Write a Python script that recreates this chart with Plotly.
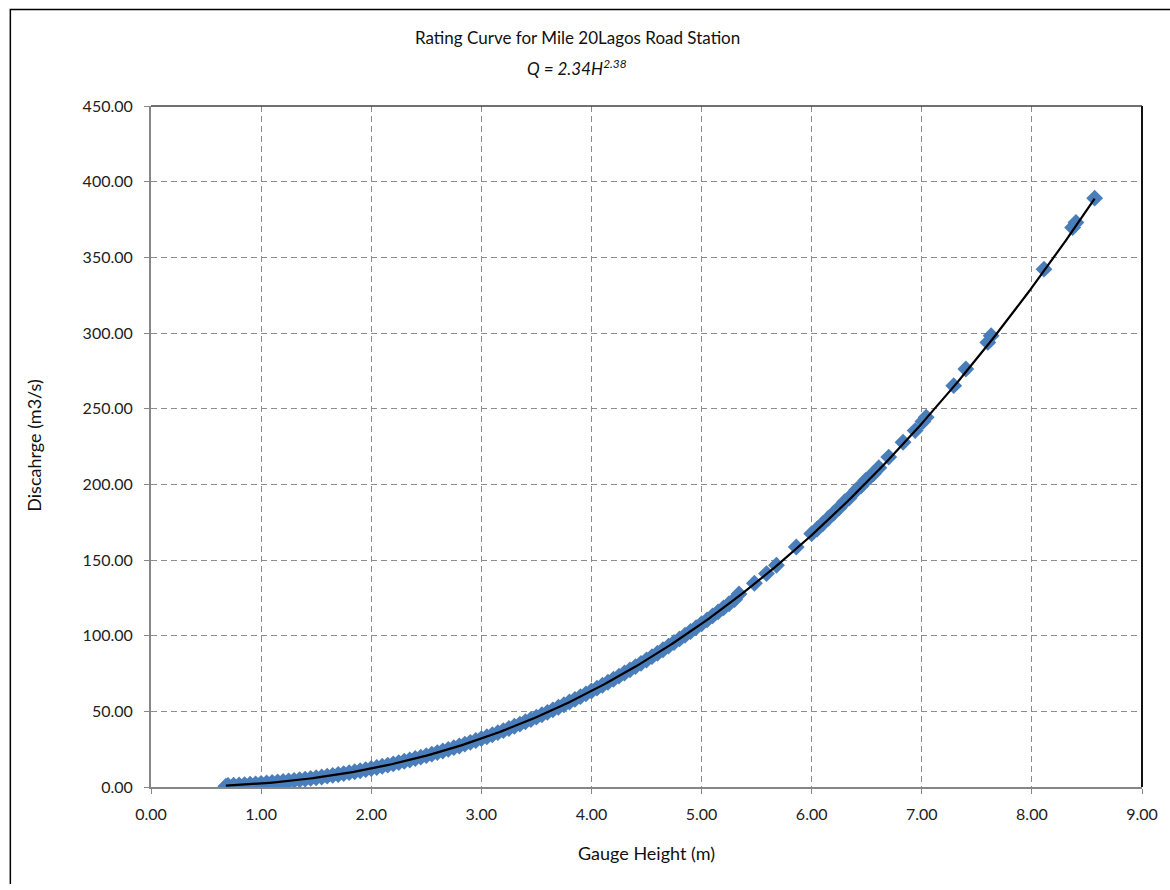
import numpy as np
import plotly.graph_objects as go

# Observed gauge heights (m) and discharges (m3/s)
gauge_height = [
    0.68, 0.70, 0.75, 0.80, 0.85, 0.90, 0.95, 1.00, 1.05, 1.10, 1.15, 1.20, 1.25,
    1.30, 1.35, 1.40, 1.45, 1.50, 1.55, 1.60, 1.65, 1.70, 1.75, 1.80, 1.85, 1.90,
    1.95, 2.00, 2.05, 2.10, 2.15, 2.20, 2.25, 2.30, 2.35, 2.40, 2.45, 2.50, 2.55,
    2.60, 2.65, 2.70, 2.75, 2.80, 2.85, 2.90, 2.95, 3.00, 3.05, 3.10, 3.15, 3.20,
    3.25, 3.30, 3.35, 3.40, 3.45, 3.50, 3.55, 3.60, 3.65, 3.70, 3.75, 3.80, 3.85,
    3.90, 3.95, 4.00, 4.05, 4.10, 4.15, 4.20, 4.25, 4.30, 4.35, 4.40, 4.45, 4.50,
    4.55, 4.60, 4.65, 4.70, 4.75, 4.80, 4.85, 4.90, 4.95, 5.00, 5.05, 5.10, 5.15,
    5.20, 5.25, 5.30, 5.34, 5.48, 5.59, 5.68, 5.86, 6.00, 6.05, 6.10, 6.15, 6.20,
    6.25, 6.30, 6.34, 6.41, 6.45, 6.49, 6.53, 6.56, 6.61, 6.70, 6.83, 6.94, 7.01,
    7.04, 7.29, 7.40, 7.60, 7.63, 8.11, 8.37, 8.40, 8.57,
]
discharge = [
    0.50, 1.00, 1.18, 1.38, 1.59, 1.82, 2.07, 2.34, 2.63, 2.94, 3.26, 3.61, 3.98,
    4.37, 4.78, 5.21, 5.67, 6.14, 6.64, 7.16, 7.71, 8.27, 8.87, 9.48, 10.12, 10.78,
    11.47, 12.18, 12.92, 13.68, 14.47, 15.28, 16.12, 16.99, 17.88, 18.80, 19.74,
    20.72, 21.72, 22.74, 23.80, 24.88, 25.99, 27.13, 28.30, 29.49, 30.72, 31.97,
    33.25, 34.56, 35.91, 37.28, 38.68, 40.11, 41.57, 43.07, 44.59, 46.14, 47.72,
    49.34, 50.99, 52.66, 54.38, 56.12, 57.89, 59.70, 61.54, 63.41, 65.31, 67.25,
    69.21, 71.21, 73.25, 75.31, 77.41, 79.55, 81.72, 83.92, 86.16, 88.43, 90.74,
    93.07, 95.45, 97.85, 100.30, 102.78, 105.30, 107.85, 110.42, 113.05, 115.70,
    118.39, 121.12, 123.88, 127.5, 134.6, 141.0, 146.5, 158.6, 167.4, 170.5, 174.0,
    177.5, 181.0, 184.5, 188.5, 191.0, 196.5, 199.0, 202.6, 205.0, 207.0, 211.0,
    218.0, 227.8, 235.5, 241.5, 244.3, 265.2, 276.2, 293.8, 298.2, 342.2, 369.7,
    373.0, 389.1,
]

# Power-law rating equation Q = a * H^b
coef_a = 2.34
coef_b = 2.38

h_fit = np.linspace(min(gauge_height), max(gauge_height), 300)
q_fit = coef_a * h_fit ** coef_b

x_ticks = [0, 1, 2, 3, 4, 5, 6, 7, 8, 9]
y_ticks = [0, 50, 100, 150, 200, 250, 300, 350, 400, 450]

FONT = "Lato, 'Open Sans', Arial, sans-serif"
GRID = "#8c8c8c"
AXIS = "#868686"

fig = go.Figure()
fig.add_trace(go.Scatter(
    x=gauge_height, y=discharge, mode="markers",
    marker=dict(symbol="diamond", size=13, color="#4a7ebb",
                line=dict(width=0)),
    showlegend=False, hoverinfo="x+y",
))
fig.add_trace(go.Scatter(
    x=h_fit, y=q_fit, mode="lines",
    line=dict(color="black", width=2.2),
    showlegend=False, hoverinfo="skip",
))

# plot-area bounds in pixels
L, R, T, B = 151, 1148, 106, 787
W, H = 1170, 884
pw, ph = R - L, B - T


def px_x(p):
    return (p - L) / pw


def px_y(p):
    return (B - p) / ph


fig.update_layout(
    width=W, height=H, autosize=False,
    margin=dict(l=L, r=W - R, t=T, b=H - B),
    paper_bgcolor="white", plot_bgcolor="white",
    font=dict(family=FONT, size=16, color="#222222"),
    xaxis=dict(
        range=[0, 9], tickvals=x_ticks, tickformat=".2f",
        showgrid=True, gridcolor=GRID, griddash="6px,4px", gridwidth=1,
        showline=True, linecolor=AXIS, linewidth=2,
        ticks="outside", ticklen=5, tickcolor=AXIS, tickwidth=1,
        ticklabelstandoff=7,
        zeroline=False, fixedrange=True,
    ),
    yaxis=dict(
        range=[0, 450], tickvals=y_ticks, tickformat=".2f",
        showgrid=True, gridcolor=GRID, griddash="6px,4px", gridwidth=1,
        showline=True, linecolor=AXIS, linewidth=2,
        ticks="outside", ticklen=5, tickcolor=AXIS, tickwidth=1,
        ticklabelstandoff=8,
        zeroline=False, fixedrange=True,
    ),
    shapes=[
        # plot-area border (top and right edges)
        dict(type="line", xref="paper", yref="paper", x0=0, x1=1, y0=1, y1=1,
             line=dict(color="#404040", width=1.5), layer="above"),
        dict(type="line", xref="paper", yref="paper", x0=1, x1=1, y0=0, y1=1,
             line=dict(color="#111111", width=2), layer="above"),
        # outer chart frame
        dict(type="rect", xref="paper", yref="paper",
             x0=px_x(9.5), x1=px_x(1190), y0=px_y(900), y1=px_y(9.5),
             line=dict(color="black", width=1.5), fillcolor="rgba(0,0,0,0)",
             layer="above"),
    ],
    annotations=[
        dict(text="Rating Curve for Mile 20Lagos Road Station",
             xref="paper", yref="paper", x=px_x(580), y=px_y(37),
             showarrow=False, xanchor="center", yanchor="middle",
             font=dict(size=17, color="#111111")),
        dict(text="<i>Q = 2.34H<sup>2.38</sup></i>",
             xref="paper", yref="paper", x=px_x(580), y=px_y(67),
             showarrow=False, xanchor="center", yanchor="middle",
             font=dict(size=17, color="#111111")),
        dict(text="Gauge Height (m)",
             xref="paper", yref="paper", x=px_x(649), y=px_y(853),
             showarrow=False, xanchor="center", yanchor="middle",
             font=dict(size=18, color="#111111")),
        dict(text="Discahrge (m3/s)", textangle=-90,
             xref="paper", yref="paper", x=px_x(33), y=px_y(446),
             showarrow=False, xanchor="center", yanchor="middle",
             font=dict(size=18, color="#111111")),
    ],
)

fig.write_html("out.html")
